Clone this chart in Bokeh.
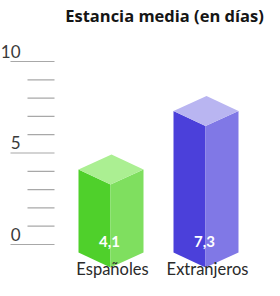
from bokeh.plotting import figure
from bokeh.models import Range1d
from bokeh.core.properties import value
from bokeh.embed import file_html
from bokeh.resources import INLINE

# ---- data ----
title_text = "Estancia media (en días)"
categories = ["Españoles", "Extranjeros"]
values = [4.1, 7.3]
value_labels = ["4,1", "7,3"]
tick_values = [0, 5, 10]
tick_labels = ["0", "5", "10"]
minor_ticks = [1, 2, 3, 4, 6, 7, 8, 9]

# ---- styles / layout ----
W, H = 264, 280
OFF = 8                 # page margin
PX = 18.3               # pixels per unit
ZERO_Y = 252 - OFF      # pixel (from top of figure) where value 0 sits
def u(px):
    return px / PX
bar_x = [118, 213]      # front-edge positions (page pixels)
left_w, right_w = 32, 33
dy = u(15)
bottom_side = u(-8)
face_left = ["#4fd02b", "#4b40da"]
face_right = ["#7fdf5f", "#8078e6"]
face_top = ["#abef92", "#b9b5f1"]
text_col = "#2a2a2a"
FONT = "Lato"

p = figure(width=W, height=H, output_backend="svg", toolbar_location=None,
           x_range=Range1d(OFF, OFF + W), y_range=Range1d(u(ZERO_Y - H), u(ZERO_Y)),
           min_border=0)
p.axis.visible = False
p.grid.visible = False
p.outline_line_color = None
p.background_fill_color = "white"

# axis lines
p.segment(x0=[18] * len(tick_values), x1=[62] * len(tick_values), y0=tick_values, y1=tick_values,
          line_color="#a8a8a8", line_width=1.2)
p.segment(x0=[35] * len(minor_ticks), x1=[62] * len(minor_ticks), y0=minor_ticks, y1=minor_ticks,
          line_color="#a8a8a8", line_width=1.2)
p.text(x=[28] * len(tick_values), y=[t + u(4) for t in tick_values], text=tick_labels,
       text_align="right", text_baseline="bottom", text_font=value(FONT),
       text_font_size="17px", text_color="#3a3a3a")

# 3D bars
for i, v in enumerate(values):
    fx = bar_x[i]
    lx = fx - left_w
    rx = fx + right_w
    bx = lx + right_w
    top_front = v - dy
    bot_front = bottom_side - dy
    p.patch([lx, fx, fx, lx], [bottom_side, bot_front, top_front, v],
            fill_color=face_left[i], line_color=None)
    p.patch([fx, rx, rx, fx], [bot_front, bottom_side, v, top_front],
            fill_color=face_right[i], line_color=None)
    p.patch([lx, fx, rx, bx], [v, top_front, v, v + dy],
            fill_color=face_top[i], line_color=None)

p.text(x=[x - 1 for x in bar_x], y=[u(3)] * len(values), text=value_labels,
       text_align="center", text_baseline="middle", text_font=value(FONT),
       text_font_style="bold", text_font_size="15px", text_color="white")

p.text(x=[x + 2 for x in bar_x], y=[u(-24)] * len(categories), text=categories,
       text_align="center", text_baseline="middle", text_font=value(FONT),
       text_font_size="16.5px", text_color=text_col)

p.text(x=[172], y=[u(ZERO_Y - 15)], text=[title_text], text_align="center",
       text_baseline="middle", text_font=value("Open Sans"), text_font_style="bold",
       text_font_size="16.5px", text_color="#151515")

open("out.html", "w").write(file_html(p, INLINE))
